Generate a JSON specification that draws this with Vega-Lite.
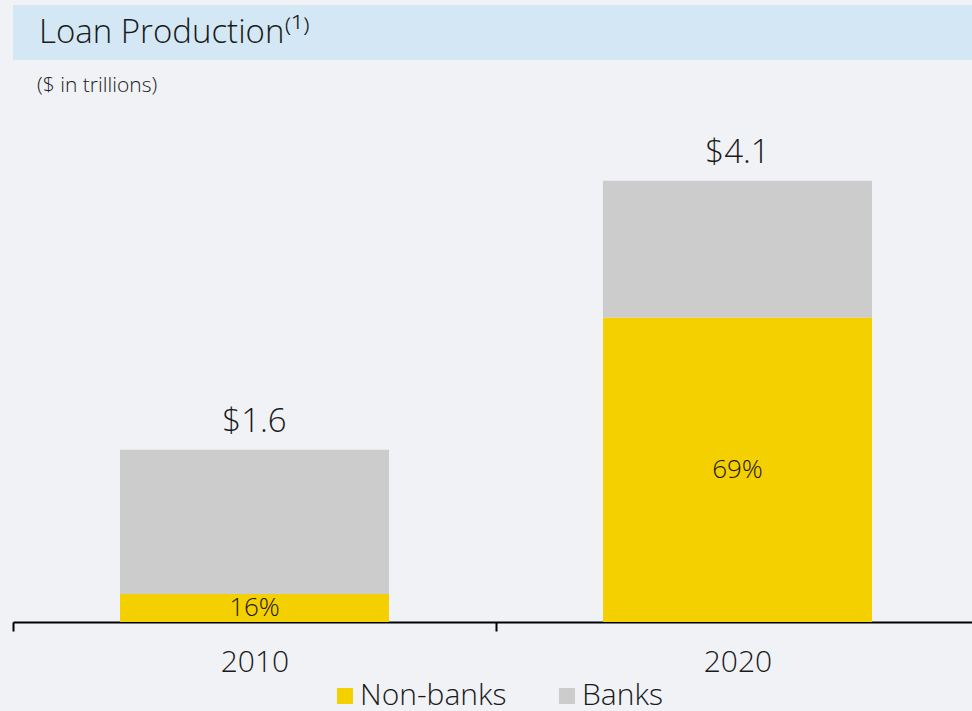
{
  "$schema": "https://vega.github.io/schema/vega-lite/v6.json",
  "autosize": {"type": "pad"},
  "padding": {"left": 12, "top": 5, "right": 0, "bottom": 20},
  "background": "#f1f2f6",
  "spacing": 15,
  "config": {
    "font": "Open Sans",
    "view": {"stroke": null},
    "text": {"color": "#1a1a1a", "font": "Open Sans", "fontWeight": 300}
  },
  "datasets": {
    "loans": [
      {"year": "2010", "type": "Non-banks", "ord": 1, "value": 0.26, "pct": 0.16, "total": 1.6},
      {"year": "2010", "type": "Banks", "ord": 2, "value": 1.34, "pct": 0.84, "total": 1.6},
      {"year": "2020", "type": "Non-banks", "ord": 1, "value": 2.83, "pct": 0.69, "total": 4.1},
      {"year": "2020", "type": "Banks", "ord": 2, "value": 1.27, "pct": 0.31, "total": 4.1}
    ]
  },
  "vconcat": [
    {
      "width": 960,
      "height": 55,
      "view": {"fill": "#d3e8f4", "stroke": null},
      "title": {
        "text": "Loan Production⁽¹⁾",
        "anchor": "start",
        "orient": "top",
        "offset": -45,
        "dx": 26,
        "fontSize": 33,
        "fontWeight": 300,
        "font": "Open Sans",
        "color": "#1a1a1a"
      },
      "data": {"values": []},
      "mark": "rect"
    },
    {
      "width": 966,
      "height": 522,
      "title": {
        "text": "($ in trillions)",
        "anchor": "start",
        "orient": "top",
        "offset": 4,
        "dx": 25,
        "fontSize": 21,
        "fontWeight": 300,
        "font": "Open Sans",
        "color": "#1a1a1a"
      },
      "data": {"name": "loans"},
      "encoding": {
        "x": {
          "field": "year",
          "type": "nominal",
          "scale": {"paddingInner": 0, "paddingOuter": 0},
          "axis": {
            "title": null,
            "labelAngle": 0,
            "labelFontSize": 30,
            "labelFontWeight": 300,
            "labelColor": "#1a1a1a",
            "labelPadding": 16,
            "domainColor": "#000000",
            "domainWidth": 2,
            "tickColor": "#000000",
            "tickWidth": 2,
            "tickSize": 9,
            "tickBand": "extent"
          }
        }
      },
      "layer": [
        {
          "mark": {"type": "bar", "width": {"band": 0.557}},
          "encoding": {
            "y": {
              "field": "value",
              "type": "quantitative",
              "stack": "zero",
              "scale": {"domain": [0, 4.85], "nice": false, "zero": true},
              "axis": null
            },
            "order": {"field": "ord", "type": "quantitative"},
            "color": {
              "field": "type",
              "type": "nominal",
              "scale": {"domain": ["Non-banks", "Banks"], "range": ["#f5d000", "#cccccc"]},
              "legend": {
                "title": null,
                "orient": "none",
                "direction": "horizontal",
                "legendX": 317,
                "legendY": 676,
                "symbolType": "square",
                "symbolSize": 256,
                "symbolStrokeWidth": 0,
                "symbolOpacity": 1,
                "labelFontSize": 30,
                "labelFontWeight": 300,
                "labelColor": "#1a1a1a",
                "labelOffset": 0,
                "columnPadding": 45
              }
            }
          }
        },
        {
          "transform": [{"filter": "datum.type === 'Non-banks'"}],
          "mark": {"type": "text", "dy": -18, "baseline": "alphabetic", "fontSize": 33},
          "encoding": {
            "y": {"field": "total", "type": "quantitative"},
            "text": {"field": "total", "type": "quantitative", "format": "$.1f"}
          }
        },
        {
          "transform": [
            {"filter": "datum.type === 'Non-banks'"},
            {"calculate": "datum.value / 2", "as": "mid"}
          ],
          "mark": {"type": "text", "baseline": "middle", "fontSize": 26},
          "encoding": {
            "y": {"field": "mid", "type": "quantitative"},
            "text": {"field": "pct", "type": "quantitative", "format": ".0%"}
          }
        }
      ]
    }
  ]
}
